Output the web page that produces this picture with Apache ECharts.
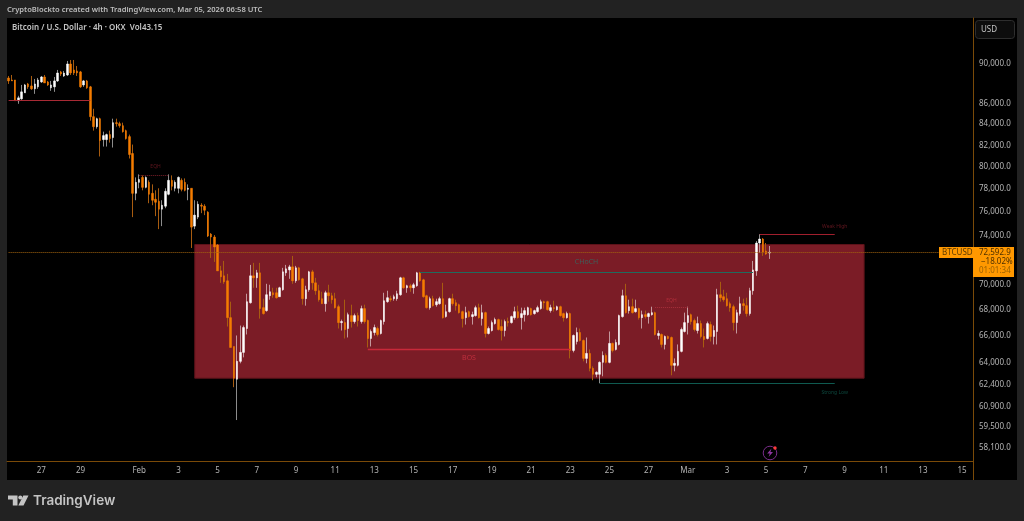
<!DOCTYPE html>
<html><head><meta charset="utf-8">
<style>html,body{margin:0;padding:0;background:#222;overflow:hidden}#c{width:1024px;height:521px}</style>
<script src="https://cdn.jsdelivr.net/npm/echarts@6/dist/echarts.min.js"></script>
</head><body><div id="c"></div>
<script>
const opens=[88530,88330,88330,86260,86450,87040,87930,87730,87440,87640,88130,88630,88130,87540,87640,88230,89140,88730,88830,89950,89340,89240,89140,87830,88230,87640,84710,83755,84520,82530,82530,83000,82720,84135,84040,83850,83375,82810,81235,77635,78610,79055,78165,78610,77635,77110,76935,76245,76505,77550,78790,78080,78080,78790,78610,77990,78080,74790,75560,76590,76505,75985,74115,73865,73200,71075,70675,70275,67390,65215,62825,64120,64775,66560,68545,70675,70515,70915,68160,67930,69090,69325,69325,69015,69565,70915,71155,71400,70275,71320,70435,68860,69565,70995,70115,69485,68860,68470,69325,69090,68860,68235,67010,67010,66560,67545,67090,67545,67090,68085,67165,65810,66260,66560,66185,67090,68625,68860,68860,68860,69170,70515,69720,69880,69720,69880,70915,70355,69090,68160,68860,68390,68470,68860,67470,67850,68860,68545,68390,67850,67390,67850,67470,67545,68160,67315,67775,66185,66410,66935,67240,66710,66410,67090,67010,67390,67850,67390,67620,67620,68085,67700,67850,68085,68625,68625,67930,68160,68005,68235,67700,67390,67700,64920,65585,66260,65660,64335,64700,63610,63180,63180,64045,64555,64045,65440,64995,65365,67470,69090,67930,68235,67850,68085,67390,67620,67470,67620,67775,66035,66110,65365,65960,65885,63830,63830,64850,66335,67010,67620,67165,66410,66935,65960,65810,66860,65960,66335,69170,69015,68860,68470,68235,67010,67700,68470,68315,67700,69485,71075,73365,73700,72705,72540];
const closes=[88230,88230,86260,86550,87140,87830,87640,87440,87930,88330,88630,88030,87830,87830,88230,89030,88930,89030,89950,89040,89040,89040,87640,88230,87540,84710,83755,84520,82440,82905,83000,82625,84135,84040,83850,83280,82625,81140,77635,78610,78875,78165,79055,77550,77025,76850,76245,76590,77810,78790,78255,78610,79055,77990,77900,78080,74705,75730,76675,76505,76155,73950,73865,73035,71075,70595,70195,67390,65140,62895,64120,64775,66635,68625,70675,70515,70915,68085,67700,69170,69405,69170,68935,69720,70995,71240,71400,70275,71320,70355,68860,69565,70995,70115,69485,68780,68470,69325,69090,68780,68160,67010,67090,66485,67620,67090,67545,67165,68085,67090,65810,66335,66635,66110,67165,68700,68935,68780,69015,69250,70515,69720,69880,69720,69960,70915,70275,69015,68160,68860,68315,68625,68860,67390,67850,68860,68470,68315,67775,67315,67775,67470,67620,68160,67390,67775,66185,66560,67010,67240,66485,66410,67090,67010,67470,67850,67390,67700,67930,68160,67620,67930,68160,68625,68545,68005,68160,68085,68235,67545,67390,67700,64920,66035,66260,65660,64335,64700,63610,63180,63325,64045,64555,64045,65440,64920,65510,67545,69090,67775,68235,67775,68085,67390,67620,67470,67700,67775,66110,66185,65365,65960,65810,63830,63975,64850,66485,67010,67545,67090,66485,66935,65960,65735,66935,65960,66410,69170,68935,68780,68315,68160,67010,67775,68470,68315,67700,69485,71155,73365,73700,72620,72455,72593];
const lows=[87930,88230,86260,85965,86350,87040,87440,87340,86940,87440,88030,88030,87730,87240,87140,88130,88730,88630,88730,88830,88830,88730,87540,87640,87440,84325,83375,83565,80960,81880,81880,82250,81790,83755,83660,83190,82530,80775,75560,77025,78080,77900,78080,76765,76590,75645,74535,74790,76330,77460,77900,77810,77635,77810,77810,77025,72950,74535,75385,75900,75730,73865,72130,71805,71075,70115,70035,66710,65140,62260,59975,63975,64410,66110,68470,69720,69720,67315,67620,67850,68780,68935,68860,69015,69485,70675,70435,70035,70115,70275,68390,68315,69405,69565,69170,68625,68470,67850,68625,68470,68085,66560,66410,65810,65885,66635,66935,66710,66935,66935,65140,65215,66035,65960,66110,66860,68545,68625,68700,68700,69090,69640,69325,69405,69250,69800,70195,68935,68085,68005,68235,68235,68390,67315,67390,67775,68315,67930,67700,66635,66860,67390,66860,67470,67315,66785,65885,66110,66335,66860,66410,65660,65960,66710,66935,67240,67315,66485,67090,67545,67545,67620,67775,68005,68085,67930,67775,67850,67930,67470,67090,67315,64335,64775,65365,65585,64120,63975,63395,62755,62970,62540,63040,63975,63975,64775,64920,65290,67390,67700,67700,67700,67775,67240,66560,67315,66935,67545,66035,65735,65140,64995,65735,63110,63395,63755,64775,66260,66110,66860,66335,66185,65810,65140,65735,65585,65365,65365,68625,68625,68235,67850,66410,66185,67545,67930,67470,67545,69170,70675,72540,72295,72375,72050];
const highs=[88730,88830,88330,86750,87830,87930,88030,88730,88430,88530,88730,88830,88230,88230,88630,89340,89240,89240,90260,90360,90360,89740,89240,88330,88330,87730,85480,84615,84615,83280,83095,83375,84520,84520,84230,84135,83470,83000,82065,79055,79325,79235,79145,78790,78430,77900,78080,77025,78080,79325,79235,78790,79145,78965,78965,78430,78080,77025,76935,76765,76675,76070,74200,74030,73280,71480,71885,70835,68625,65215,66035,66785,66785,69250,71560,71725,71155,71725,68860,70035,69960,69720,69720,69800,71320,71560,71560,72295,71480,71400,70515,69880,71075,71155,70515,69960,69405,69485,69960,69325,69325,68390,67240,68780,67775,68390,67700,67775,68315,68390,67240,66485,66860,66710,67240,69325,69485,69090,69170,69485,70595,70595,69960,70035,70115,70995,70995,70435,69170,69015,69090,68860,69015,70115,68390,68935,69250,68780,68470,67930,68235,67930,67850,68315,68470,68390,67850,66710,67165,67390,67315,67240,67240,67390,67545,68235,68315,68160,68160,68235,68160,68005,68315,68780,68700,68700,68390,68700,68315,68315,67775,67850,67775,66110,66635,66560,65735,65885,64995,63755,63395,64120,64850,64700,66335,65510,65735,67620,69565,70035,68780,68860,68780,68160,67930,67930,67775,68235,67850,66410,66185,66035,66035,65960,64335,65365,66635,67775,68235,67700,67315,67470,67165,66560,67090,67090,66785,69640,70195,69565,69325,68625,68390,68005,69015,68860,68935,69720,71885,73530,74115,73780,73365,73115];

const rangeBox={fromIndex:57,toIndex:262,top:73240,bottom:62900};
const lastPrice=72593;
const yTicks=[90000,86000,84000,82000,80000,78000,76000,74000,70000,68000,66000,64000,62400,60900,59500,58100];
const xTickIndex=[10,22,40,52,64,76,88,100,112,124,136,148,160,172,184,196,208,220,232,244,256,268,280,292];
const xTickLabels=['27','29','Feb','3','5','7','9','11','13','15','17','19','21','23','25','27','Mar','3','5','7','9','11','13','15'];
const levelLines=[
 {from:0,to:25,price:86300,color:'#a82a35',type:'solid',width:1.2},
 {from:40,to:49,price:79280,color:'#7c1f2a',type:'dotted',width:1},
 {from:126,to:228,price:70955,color:'#1f6b5e',type:'solid',width:1.2},
 {from:110,to:172,price:65040,color:'#c8293a',type:'solid',width:1.3},
 {from:181,to:253,price:62540,color:'#0f5a50',type:'solid',width:1.2},
 {from:230,to:253,price:74100,color:'#a11f2d',type:'solid',width:1.2},
 {from:198,to:208,price:68210,color:'#a8303c',type:'dotted',width:1}
];
const levelLabels=[
 {name:'EQH',at:45,price:80045,color:'#7a1c27',size:5},
 {name:'CHoCH',at:177,price:71805,color:'#2f7068',size:7},
 {name:'BOS',at:141,price:64370,color:'#d03344',size:7},
 {name:'EQH',at:203,price:68750,color:'#c03340',size:5},
 {name:'Weak High',at:253,price:74790,color:'#7a1c27',size:5},
 {name:'Strong Low',at:253,price:61880,color:'#0f5a4e',size:5}
];

const TOTAL=296;
const categories=[];
const t0=Date.UTC(2026,0,25,8);
for(let i=0;i<TOTAL;i++){categories.push(new Date(t0+i*4*3600e3).toISOString().slice(0,13));}
const tickByCat={};
xTickIndex.forEach((ix,k)=>{tickByCat[categories[ix]]=xTickLabels[k];});

const wickData=opens.map((o,i)=>[o,closes[i],lows[i],highs[i]]);
const bodyData=opens.map((o,i)=>[o,closes[i],Math.min(o,closes[i]),Math.max(o,closes[i])]);

const chart=echarts.init(document.getElementById('c'),null,{renderer:'canvas'});
const FONT='"Noto Sans","Open Sans",sans-serif';
const AX='#b4b4b4';
const series=[
 {type:'candlestick',name:'wicks',z:3,barWidth:1,data:wickData,silent:true,
  itemStyle:{color:'rgba(255,255,255,0.55)',color0:'#c26a10',borderColor:'rgba(255,255,255,0.55)',borderColor0:'#a85c10',borderWidth:1},
  markArea:{silent:true,z:1,itemStyle:{color:'#7b1c26',borderColor:'#5c1219',borderWidth:1},
   data:[[{xAxis:categories[rangeBox.fromIndex],yAxis:rangeBox.top},{xAxis:categories[rangeBox.toIndex],yAxis:rangeBox.bottom}]]},
  markLine:{silent:true,symbol:'none',animation:false,label:{show:false},
   data:[[{xAxis:categories[0],yAxis:lastPrice,lineStyle:{color:'#a5650f',type:'dotted',width:1}},{xAxis:categories[TOTAL-1],yAxis:lastPrice}]].concat(
    levelLines.map(l=>[{xAxis:categories[l.from],yAxis:l.price,lineStyle:{color:l.color,type:l.type,width:l.width}},{xAxis:categories[l.to],yAxis:l.price}]))}
 },
 {type:'candlestick',name:'bodies',z:4,barWidth:2,data:bodyData,silent:true,
  itemStyle:{color:'#ffffff',color0:'#f57c00',borderColor:'#ffffff',borderColor0:'#f57c00',borderWidth:0.5}},
 {type:'scatter',name:'labels',z:5,symbolSize:0,silent:true,
  data:levelLabels.map(l=>({value:[categories[l.at],l.price],label:{show:true,position:'inside',formatter:l.name,color:l.color,fontSize:l.size,fontFamily:FONT}}))}
];
chart.setOption({
 animation:false,backgroundColor:'#222222',
 grid:{left:7,right:50.5,top:18,bottom:59.5,containLabel:false},
 xAxis:{type:'category',data:categories,boundaryGap:true,
  axisLine:{show:true,lineStyle:{color:'#7a4a08',width:1}},axisTick:{show:false},splitLine:{show:false},
  axisLabel:{color:AX,fontSize:8,fontFamily:FONT,margin:5,hideOverlap:false,
   interval:(i,v)=>tickByCat[v]!==undefined,formatter:v=>tickByCat[v]||''}},
 yAxis:{type:'log',logBase:10,position:'right',min:57210,max:94783,
  axisLine:{show:true,lineStyle:{color:'#7a4a08',width:1}},axisTick:{show:false},splitLine:{show:false},minorTick:{show:false},
  axisLabel:{customValues:yTicks,color:AX,fontSize:8,fontFamily:FONT,margin:5.5,align:'left',
   formatter:v=>Number(v).toLocaleString('en-US',{minimumFractionDigits:1,maximumFractionDigits:1})}},
 series:series,
 graphic:{elements:[
  {type:'rect',z:-10,silent:true,shape:{x:7,y:18,width:1010,height:462},style:{fill:'#000'}},
  {type:'rect',z:50,silent:true,shape:{x:973,y:461,width:1,height:19},style:{fill:'#7a4a08'}},
  {type:'text',z:60,x:7,y:10,style:{text:'CryptoBlockto created with TradingView.com, Mar 05, 2026 06:58 UTC',fill:'#bdbdbd',font:'600 7.6px '+FONT,textVerticalAlign:'middle'}},
  {type:'text',z:60,x:12,y:28,style:{text:'Bitcoin / U.S. Dollar · 4h · OKX  Vol43.15',fill:'#c4c4c4',font:'600 8px '+FONT,textVerticalAlign:'middle'}},
  {type:'rect',z:60,shape:{x:975.5,y:20.5,width:39,height:18,r:3},style:{fill:'#0d0d0d',stroke:'#2e2e2e',lineWidth:1}},
  {type:'text',z:61,x:981,y:30,style:{text:'USD',fill:'#c4c4c4',font:'8px '+FONT,textVerticalAlign:'middle'}},
  {type:'rect',z:60,shape:{x:939,y:247,width:34,height:11},style:{fill:'#ff9800'}},
  {type:'rect',z:60,shape:{x:973,y:247,width:41,height:30},style:{fill:'#ff9800'}},
  {type:'text',z:61,x:942,y:252.8,style:{text:'BTCUSD',fill:'#5c3a00',font:'8px '+FONT,textVerticalAlign:'middle'}},
  {type:'text',z:61,x:979,y:252.6,style:{text:'72,592.9',fill:'#4d3000',font:'8px '+FONT,textVerticalAlign:'middle'}},
  {type:'text',z:61,x:981,y:261.5,style:{text:'−18.02%',fill:'#4d3000',font:'8px '+FONT,textVerticalAlign:'middle'}},
  {type:'text',z:61,x:979,y:271,style:{text:'01:01:34',fill:'#9c6200',font:'8px '+FONT,textVerticalAlign:'middle'}},
  {type:'circle',z:60,shape:{cx:770,cy:453,r:6.8},style:{fill:'#000',stroke:'#7b2d8b',lineWidth:1}},
  {type:'polygon',z:61,shape:{points:[[771.5,448.5],[767.2,453.6],[769.8,453.6],[768.6,457],[773,452],[770.4,452]]},style:{fill:'#8e35a0'}},
  {type:'circle',z:62,shape:{cx:775,cy:448,r:1.7},style:{fill:'#ff3b3b'}},
  {type:'polygon',z:60,shape:{points:[[8,495.5],[17.5,495.5],[17.5,505.5],[12.8,505.5],[12.8,499.5],[8,499.5]]},style:{fill:'#c4c4c4'}},
  {type:'circle',z:60,shape:{cx:20.3,cy:497.5,r:2},style:{fill:'#c4c4c4'}},
  {type:'polygon',z:60,shape:{points:[[23.3,495.5],[28.5,495.5],[23.5,505.5],[18.3,505.5]]},style:{fill:'#c4c4c4'}},
  {type:'text',z:60,x:33,y:500.8,style:{text:'TradingView',fill:'#c4c4c4',font:'600 13.5px Inter,'+FONT,textVerticalAlign:'middle'}}
 ]}
});
</script></body></html>
